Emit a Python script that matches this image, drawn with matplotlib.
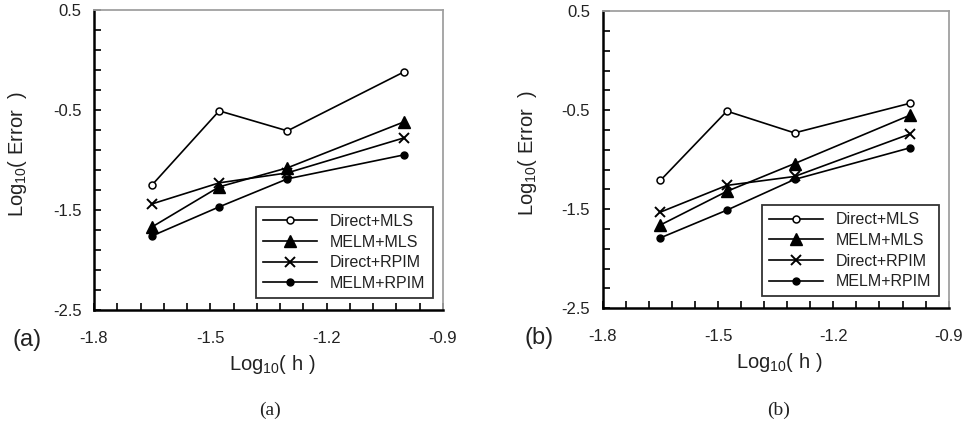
"""Convergence of the error with node spacing, two panels"""

import matplotlib

matplotlib.use("Agg")
import matplotlib.pyplot as plt
import numpy as np
from matplotlib.ticker import FixedLocator

plt.rcParams["font.family"] = ["Liberation Sans", "DejaVu Sans"]
plt.rcParams["mathtext.fontset"] = "custom"
plt.rcParams["mathtext.rm"] = "Liberation Sans"
plt.rcParams["mathtext.it"] = "Liberation Sans"

# log10(h) for the four node spacings
log_h = [-1.65, -1.477, -1.301, -1.0]

series_names = ["Direct+MLS", "MELM+MLS", "Direct+RPIM", "MELM+RPIM"]

# panel (a)
a_direct_mls = [-1.25, -0.51, -0.71, -0.12]
a_melm_mls = [-1.67, -1.27, -1.08, -0.62]
a_direct_rpim = [-1.44, -1.23, -1.13, -0.78]
a_melm_rpim = [-1.76, -1.47, -1.19, -0.95]

# panel (b)
b_direct_mls = [-1.21, -0.51, -0.73, -0.43]
b_melm_mls = [-1.66, -1.32, -1.04, -0.55]
b_direct_rpim = [-1.53, -1.26, -1.17, -0.74]
b_melm_rpim = [-1.79, -1.51, -1.2, -0.88]

x_ticks = [-1.8, -1.5, -1.2, -0.9]
y_ticks = [0.5, -0.5, -1.5, -2.5]

styles = [
    dict(marker="o", markersize=5, markerfacecolor="white", markeredgewidth=1.1),
    dict(marker="^", markersize=8),
    dict(marker="x", markersize=7, markeredgewidth=1.4),
    dict(marker="o", markersize=5),
]

TEXT = "#222222"


def _draw_panel(ax, values, tag, tag_x):
    for name, ys, st in zip(series_names, values, styles):
        ax.plot(log_h, ys, color="black", linewidth=1.2, label=name, **st)

    ax.set_xlim(-1.8, -0.9)
    ax.set_ylim(-2.5, 0.5)
    ax.set_xticks(x_ticks)
    ax.set_xticklabels([f"{t:.1f}" for t in x_ticks])
    ax.set_yticks(y_ticks)
    ax.set_yticklabels([f"{t:.1f}" for t in y_ticks])
    ax.xaxis.set_minor_locator(FixedLocator(np.arange(-1.8, -0.89, 0.06)))
    ax.yaxis.set_minor_locator(FixedLocator(np.arange(-2.5, 0.51, 0.2)))
    ax.tick_params(which="both", direction="in", length=5, width=1.2, colors="black",
                   labelcolor=TEXT, labelsize=12)
    ax.tick_params(axis="x", which="major", pad=15)
    ax.tick_params(axis="y", which="major", pad=9)

    for side in ("left", "bottom"):
        ax.spines[side].set_linewidth(1.8)
        ax.spines[side].set_color("black")
    for side in ("top", "right"):
        ax.spines[side].set_linewidth(1.3)
        ax.spines[side].set_color("#a0a0a0")

    ax.set_ylabel(r"Log$_{10}$( Error  )", fontsize=14.5, color=TEXT)
    ax.yaxis.set_label_coords(-0.185, 0.52)
    ax.set_xlabel(r"Log$_{10}$( h )", fontsize=14.5, color=TEXT)
    ax.xaxis.set_label_coords(0.51, -0.145)

    leg = ax.legend(loc="lower right", bbox_to_anchor=(0.971, 0.04), fontsize=11.5,
                    frameon=True, fancybox=False, handlelength=3.4,
                    handletextpad=0.8, borderpad=0.45, labelspacing=0.35,
                    borderaxespad=0)
    leg.get_frame().set_edgecolor("black")
    leg.get_frame().set_linewidth(1.3)
    for t in leg.get_texts():
        t.set_color(TEXT)

    ax.text(tag_x, -0.1, f"({tag})", transform=ax.transAxes, fontsize=17,
            color=TEXT, ha="left", va="center")


fig = plt.figure(figsize=(9.69, 4.28), dpi=100)
ax_a = fig.add_axes([0.097, 0.276, 0.360, 0.701])
ax_b = fig.add_axes([0.622, 0.280, 0.357, 0.694])

_draw_panel(ax_a, [a_direct_mls, a_melm_mls, a_direct_rpim, a_melm_rpim], "a", -0.235)
_draw_panel(ax_b, [b_direct_mls, b_melm_mls, b_direct_rpim, b_melm_rpim], "b", -0.225)

fig.text(0.279, 0.03, "(a)", family="Liberation Serif", fontsize=14, ha="center",
         color=TEXT)
fig.text(0.803, 0.03, "(b)", family="Liberation Serif", fontsize=14, ha="center",
         color=TEXT)

fig.savefig("out.png", dpi=100)
plt.close(fig)
